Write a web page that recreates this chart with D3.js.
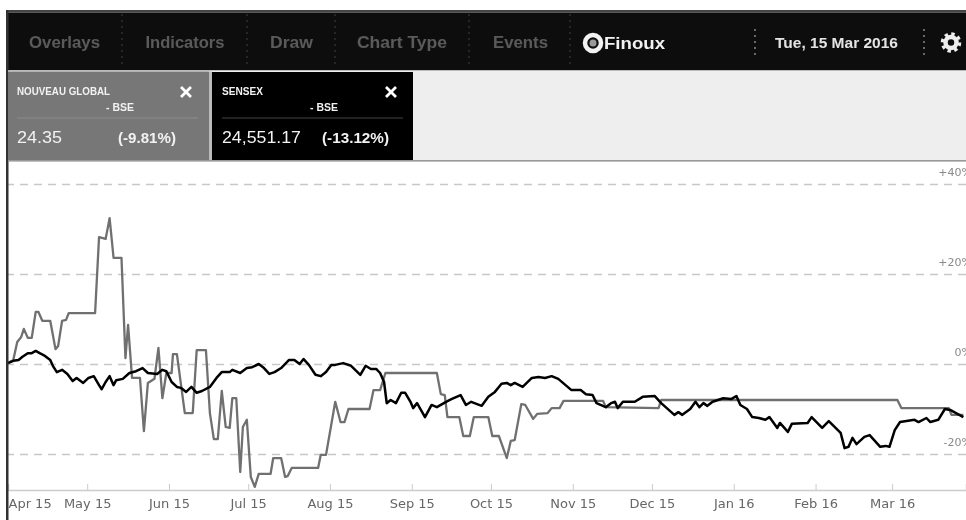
<!DOCTYPE html>
<html>
<head>
<meta charset="utf-8">
<script src="https://cdn.jsdelivr.net/npm/d3@7"></script>
<style>
  html, body { margin: 0; padding: 0; background: #fff; overflow: hidden; }
  svg { display: block; font-family: "Liberation Sans", Arial, sans-serif; }
</style>
</head>
<body>
<svg id="chart"></svg>
<script>
// toolbar and tabs
const menuItems = ["Overlays", "Indicators", "Draw", "Chart Type", "Events"];
const dateLabel = "Tue, 15 Mar 2016";

// x axis and y axis
const monthTicks = ["2015-04-01", "2015-05-01", "2015-06-01", "2015-07-01", "2015-08-01", "2015-09-01",
  "2015-10-01", "2015-11-01", "2015-12-01", "2016-01-01", "2016-02-01", "2016-03-01"];
const pctTicks = [40, 20, 0, -20];

// Nouveau Global: days since 1 Apr 2015, % change
const nouveauDays = [0, 2, 3.5, 5, 6, 7.5, 9, 10.5, 11.5, 13, 16, 18, 19, 20.5, 22, 23, 33, 34.5, 37, 38.5, 40, 43,
  44.5, 45.5, 47, 50, 51.5, 53, 55.5, 57, 58.5, 60, 62, 62.5, 64, 67, 70, 71.5, 75, 76.5, 78, 79.5, 81, 82.5, 84,
  85, 86.5, 88, 89, 90.5, 92, 93.5, 95, 99.5, 100.5, 103.5, 105, 106, 107.5, 117.5, 118.5, 120.5, 124, 126, 127.5,
  129, 137, 138.5, 141, 143, 162.5, 164, 165.5, 166.5, 171, 172.5, 175, 176.5, 182, 183.5, 186, 189, 190.5, 192,
  194.5, 196, 199, 200.5, 204.5, 206, 209, 210.5, 225.5, 226.5, 246.5, 247.5, 337, 338.5, 356.5, 357.5, 362];
const nouveauPct = [0.2, 0.9, 4.9, 6, 7.8, 5.8, 5.8, 11.6, 11.6, 9.6, 9.6, 3.3, 4, 9.6, 9.8, 11.3, 11.3, 28.2, 27.8, 32.4, 23.6, 23.6,
  1.3, 8.7, -3.1, -3.1, -14.9, -4.2, -3.3, 3.6, -7.6, -2, -2, 2.2, 2.2, -10.9, -10.9, 3.1, 3.1, -10.9, -16.7, -16.7, -6, -14, -14.2,
  -7.6, -7.6, -24, -14, -12.4, -25.1, -27.3, -24.4, -24.4, -20.9, -20.9, -25.1, -24.9, -23.1, -23.1, -20.2, -20.2, -8.4, -12.9, -12.9,
  -10, -10, -5.8, -5.8, -2, -2, -6.7, -6.9, -11.8, -11.8, -16, -16, -11.8, -11.8, -16, -16, -20.9, -17.1, -16.9,
  -8.9, -9.1, -12.2, -11.1, -10.9, -9.8, -9.8, -8.2, -8.2, -9.6, -9.8, -8, -8, -9.8, -9.8, -11.3, -11.3];

// Sensex: days since 1 Apr 2015, % change
const sensexDays = [0, 2, 4, 5.5, 7.5, 9, 10.5, 12, 14, 16, 17, 18.5, 20.5, 22.5, 24.5, 26, 28.5, 30.5, 32.5, 34.5, 35.5, 37, 38.5, 40, 41,
  43.5, 46, 48.5, 51, 53, 56.5, 58.5, 60, 62, 64, 65.5, 67.5, 69.5, 71.5, 73.5, 76.5, 79, 81, 84, 85, 88, 90.5, 92.5, 95, 97, 99, 101,
  103.5, 106.5, 108.5, 110.5, 112, 114, 116.5, 118.5, 120.5, 122.5, 124, 127, 130, 133.5, 135.5, 137.5, 139.5, 141, 142.5, 143.5, 145,
  147, 149, 150.5, 152.5, 153.5, 155, 158, 160.5, 162.5, 166, 168, 171.5, 173.5, 175.5, 179.5, 182, 184.5, 187, 189, 190.5, 192, 195,
  198.5, 201, 203.5, 206, 208.5, 213.5, 217, 219, 221.5, 223, 226.5, 228.5, 230, 231, 233, 237.5, 240.5, 245, 247.5, 252.5, 254, 255.5,
  258.5, 260.5, 262, 263.5, 265, 267, 271, 274, 276, 277.5, 280, 282, 284.5, 287, 288.5, 291.5, 292.5, 295.5, 297, 303, 304.5, 308.5,
  311, 315.5, 317, 318.5, 320, 321.5, 324.5, 326.5, 330.5, 332.5, 334, 336, 338, 343.5, 345, 348, 349.5, 352.5, 355, 357, 362];
const sensexPct = [0.2, 0.7, 0.9, 1.6, 2.4, 2.4, 2.9, 2.4, 1.8, 0.9, -0.4, -1.8, -1.3, -2.2, -3.8, -3.1, -4.2, -3.1, -2.7, -4.7, -5.6, -4, -2.7, -4.7, -3.6,
  -3.3, -2, -1.6, -0.9, -2, -2.2, -1.3, -1.6, -4, -5.1, -5.3, -6.2, -5.1, -6.4, -6, -5.1, -3.1, -1.8, -1.8, -1.3, -2, -0.9, -0.7, 0, -0.9, -2.2, -1.8,
  -0.9, 0.9, 0.9, 0, 1.1, -0.2, -2.4, -2.7, -1.8, -0.2, -0.2, 0.2, -0.4, -2.4, -0.4, -1.1, -1.1, -2, -4, -8.7, -8,
  -8.7, -6.4, -6.4, -8.4, -9.8, -8.7, -11.8, -9.1, -9.6, -8.4, -7.8, -6.9, -9.1, -8.4, -9.3, -7.3, -6.2, -4.4, -4.2, -4.7, -4.2, -5.1,
  -3.1, -2.9, -3.1, -2.7, -3.3, -5.8, -5.8, -6.7, -6.9, -8.7, -9.6, -8.7, -8.4, -9.8, -8.4, -8.4, -7.3, -7.1, -8.7, -11.3, -10.7, -11.3,
  -10, -8.4, -9.6, -8.7, -9.3, -8.4, -7.6, -7.8, -7.1, -9.1, -10, -11.8, -12, -12.4, -11.8, -14.2, -13.1, -15.1, -13.3, -13.1, -11.8, -14.2,
  -12.7, -15.3, -18.7, -18.4, -16.4, -17.8, -16.2, -15.8, -18.4, -18.2, -18.4, -14.7, -12.9, -12.4, -12.9, -12, -12.9, -12.4, -10, -10.2, -11.8];

const W = 966, H = 520;
const parseDay = d3.timeParse("%Y-%m-%d");
const startDate = parseDay("2015-04-01");
const endDate = parseDay("2016-03-29");
const asDate = d => d3.timeHour.offset(startDate, d * 24);

const svg = d3.select("#chart").attr("width", W).attr("height", H);

// the source is a soft screenshot
svg.append("defs").append("filter").attr("id", "soft")
  .attr("x", 0).attr("y", 0).attr("width", 1).attr("height", 1)
  .append("feGaussianBlur").attr("stdDeviation", 0.7);
svg.select("defs").append("clipPath").attr("id", "plot")
  .append("rect").attr("x", 8).attr("y", 162).attr("width", W - 8).attr("height", 330);

const root = svg.append("g").attr("filter", "url(#soft)");
root.append("rect").attr("width", W).attr("height", H).attr("fill", "#fff");

const x = d3.scaleTime().domain([startDate, endDate]).range([8, W]);
const y = d3.scaleLinear().domain([40, -20]).range([184, 454]);

// ---- chart ----
const gridAxis = d3.axisLeft(y).tickValues(pctTicks).tickSize(W - 8).tickPadding(0)
  .tickFormat(d => (d > 0 ? "+" : "") + d + "%");
const gy = root.append("g").attr("transform", `translate(${W},0)`).call(gridAxis);
gy.select(".domain").remove();
gy.selectAll("line").attr("stroke", "#c8c8c8").attr("stroke-width", 1.4).attr("stroke-dasharray", "8,6");
gy.selectAll("text")
  .attr("x", 6).attr("dy", "-0.75em")
  .attr("text-anchor", "end")
  .attr("fill", "#8a8a8a")
  .style("font-family", "'DejaVu Sans', sans-serif")
  .style("font-size", "11px");

const xAxis = d3.axisBottom(x).tickValues(monthTicks.map(parseDay))
  .tickSize(-6).tickPadding(9).tickFormat(d3.timeFormat("%b %y"));
const gx = root.append("g").attr("transform", "translate(0,490)").call(xAxis);
gx.select(".domain").attr("stroke", "#ccc").attr("stroke-width", 1.5);
gx.selectAll("line").attr("stroke", "#ccc");
gx.selectAll("text")
  .attr("fill", "#666")
  .style("font-family", "'DejaVu Sans', sans-serif")
  .style("font-size", "13px");
gx.selectAll("text").filter((d, i) => i === 0).attr("text-anchor", "start");

const line = d3.line().x(d => x(asDate(d[0]))).y(d => y(d[1]));
const plot = root.append("g").attr("clip-path", "url(#plot)");
plot.append("path").datum(d3.zip(nouveauDays, nouveauPct))
  .attr("d", line).attr("fill", "none").attr("stroke", "#707070").attr("stroke-width", 2.3)
  .attr("stroke-linejoin", "round");
plot.append("path").datum(d3.zip(sensexDays, sensexPct))
  .attr("d", line).attr("fill", "none").attr("stroke", "#000").attr("stroke-width", 2.5)
  .attr("stroke-linejoin", "round");

// ---- toolbar ----
root.append("rect").attr("x", 6).attr("y", 10).attr("width", W - 6).attr("height", 2.5).attr("fill", "#444");
root.append("rect").attr("x", 8).attr("y", 12.5).attr("width", W - 8).attr("height", 58).attr("fill", "#111");
root.append("rect").attr("x", 6).attr("y", 10).attr("width", 2.5).attr("height", H - 10).attr("fill", "#333");

const menuX = [64.5, 185, 291.5, 402, 520.5];
const menuLen = [71, 79, 43, 90, 55];
root.selectAll("text.menu").data(menuItems).enter().append("text").attr("class", "menu")
  .attr("x", (d, i) => menuX[i]).attr("y", 47.5)
  .attr("text-anchor", "middle").attr("fill", "#5a5a5a")
  .attr("font-size", 16.5).attr("font-weight", "bold")
  .attr("textLength", (d, i) => menuLen[i]).attr("lengthAdjust", "spacingAndGlyphs")
  .text(d => d);

[122, 247, 335, 469, 570].forEach(px => {
  root.append("line").attr("x1", px).attr("x2", px).attr("y1", 14).attr("y2", 68)
    .attr("stroke", "#3a3a3a").attr("stroke-dasharray", "2,4");
});
[755, 924].forEach(px => {
  root.append("line").attr("x1", px).attr("x2", px).attr("y1", 29).attr("y2", 56)
    .attr("stroke", "#999").attr("stroke-dasharray", "2,4").attr("stroke-width", 1.3);
});

root.append("circle").attr("cx", 593).attr("cy", 43).attr("r", 8).attr("fill", "none")
  .attr("stroke", "#f2f2f2").attr("stroke-width", 4.5);
root.append("circle").attr("cx", 593).attr("cy", 43).attr("r", 3.5).attr("fill", "#999");
root.append("text").attr("x", 604).attr("y", 48.5).attr("fill", "#f2f2f2")
  .attr("font-size", 16).attr("font-weight", "bold")
  .attr("textLength", 61).attr("lengthAdjust", "spacingAndGlyphs").text("Finoux");
root.append("text").attr("x", 775).attr("y", 47.5).attr("fill", "#e4e4e4")
  .attr("font-size", 14.5).attr("font-weight", "bold")
  .attr("textLength", 123).attr("lengthAdjust", "spacingAndGlyphs").text(dateLabel);

// gear icon
root.append("circle").attr("cx", 951).attr("cy", 42.5).attr("r", 5.5).attr("fill", "none")
  .attr("stroke", "#eee").attr("stroke-width", 4.5);
root.append("circle").attr("cx", 951).attr("cy", 42.5).attr("r", 8.5).attr("fill", "none")
  .attr("stroke", "#eee").attr("stroke-width", 3.5)
  .attr("stroke-dasharray", `${2 * Math.PI * 8.5 / 16} ${2 * Math.PI * 8.5 / 16}`);

// ---- tabs ----
root.append("rect").attr("x", 8).attr("y", 70.5).attr("width", W - 8).attr("height", 90).attr("fill", "#eee");
root.append("rect").attr("x", 8).attr("y", 160).attr("width", W - 8).attr("height", 1.6).attr("fill", "#999");
root.append("rect").attr("x", 8).attr("y", 71.5).attr("width", 201).attr("height", 88.5).attr("fill", "#777");
root.append("rect").attr("x", 209).attr("y", 71.5).attr("width", 3).attr("height", 88.5).attr("fill", "#bbb");
root.append("rect").attr("x", 212).attr("y", 72).attr("width", 201).attr("height", 88).attr("fill", "#000");

function tab(opts) {
  const g = root.append("g").attr("transform", `translate(${opts.left},0)`);
  const label = (tx, ty, size, bold, len, s) => g.append("text").attr("x", tx).attr("y", ty)
    .attr("fill", "#f2f2f2").attr("font-size", size).attr("font-weight", bold ? "bold" : "normal")
    .attr("textLength", len).attr("lengthAdjust", "spacingAndGlyphs").text(s);
  label(0, 95, 11, true, opts.nameLen, opts.name);
  label(opts.bseX, 111, 11, true, 28, "- BSE");
  g.append("line").attr("x1", 0).attr("x2", 181).attr("y1", 118).attr("y2", 118).attr("stroke", opts.rule);
  label(0, 143, 17, false, opts.priceLen, opts.price);
  label(opts.chgX, 143, 15, true, opts.chgLen, opts.chg);
  g.append("path").attr("d", "M-5,-5L5,5M5,-5L-5,5")
    .attr("transform", `translate(${opts.closeX},92)`)
    .attr("stroke", "#fff").attr("stroke-width", 2.8).attr("fill", "none");
}
tab({ left: 17, name: "NOUVEAU GLOBAL", nameLen: 93, bseX: 89, price: "24.35", priceLen: 45, chg: "(-9.81%)", chgX: 101, chgLen: 58, closeX: 169, rule: "#8c8c8c" });
tab({ left: 222, name: "SENSEX", nameLen: 41, bseX: 88, price: "24,551.17", priceLen: 79, chg: "(-13.12%)", chgX: 100, chgLen: 67, closeX: 169, rule: "#444" });
</script>
</body>
</html>
